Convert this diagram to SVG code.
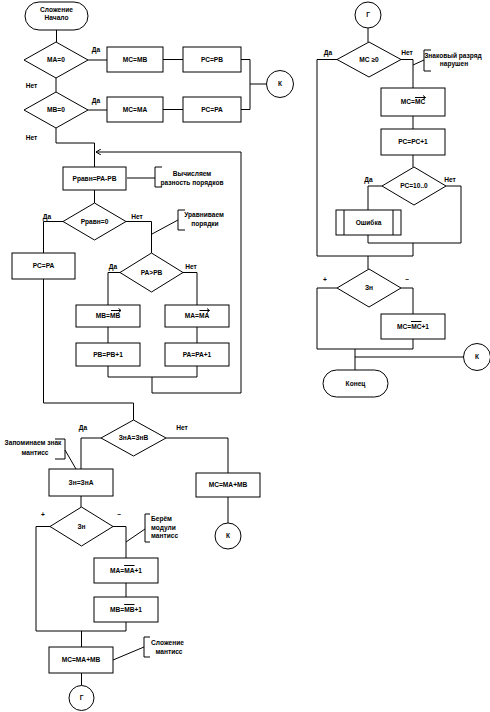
<svg xmlns="http://www.w3.org/2000/svg" width="490" height="712" viewBox="0 0 490 712">
<style>
.s{fill:#fff;stroke:#000;stroke-width:1}
.c{fill:none;stroke:#000;stroke-width:1}
text{font-family:"Liberation Sans",Arial,sans-serif;font-size:6.6px;font-weight:bold;fill:#000}
.m{text-anchor:middle}
</style>
<defs>
<marker id="ah" markerWidth="6" markerHeight="6" refX="5" refY="3" orient="auto" markerUnits="userSpaceOnUse">
<path d="M0,0 L5,3 L0,6" fill="none" stroke="#000" stroke-width="1"/>
</marker>
</defs>
<rect width="490" height="712" fill="#fff"/>
<g id="connectors">
<path class="c" d="M56.5,30 V42"/>
<path class="c" d="M88,60 H107"/>
<path class="c" d="M163,59.5 H183"/>
<path class="c" d="M241,59.5 H250 V109.5 H241"/>
<path class="c" d="M250,84 H266.5"/>
<path class="c" d="M56,78 V92"/>
<path class="c" d="M88,110 H107"/>
<path class="c" d="M163,109.5 H183"/>
<path class="c" d="M56,128 V143 H94.5 V167"/>
<path class="c" d="M152,377 V393 H241 V152 H96" marker-end="url(#ah)"/>
<path class="c" d="M127,178 H155"/>
<path class="c" d="M94.5,190 V203"/>
<path class="c" d="M63,221.5 H43.5 V253"/>
<path class="c" d="M126,221.5 H151.5 V253"/>
<path class="c" d="M152,234 L178,220"/>
<path class="c" d="M120,272.5 H108 V305"/>
<path class="c" d="M183,272.5 H197 V305"/>
<path class="c" d="M108,327 V343"/>
<path class="c" d="M197,327 V343"/>
<path class="c" d="M108,366 V377 H197 V366"/>
<path class="c" d="M43.5,279 V403 H133.5 V420"/>
<path class="c" d="M101,438 H81 V469"/>
<path class="c" d="M166,438 H228 V473"/>
<path class="c" d="M65,450 L76,469"/>
<path class="c" d="M81,496 V507"/>
<path class="c" d="M50,526.5 H36 V631 H126 V622"/>
<path class="c" d="M113,526.5 H126 V558"/>
<path class="c" d="M126,542 L145,529"/>
<path class="c" d="M228,497 V523"/>
<path class="c" d="M126,583 V597"/>
<path class="c" d="M81.5,631 V647"/>
<path class="c" d="M113,660 L144,647"/>
<path class="c" d="M81.5,673 V685.5"/>
<path class="c" d="M368,28 V42"/>
<path class="c" d="M337,59.5 H317 V256 H413 V243"/>
<path class="c" d="M401,59.5 H413 V88"/>
<path class="c" d="M413,65 L424,60"/>
<path class="c" d="M413,116 V129"/>
<path class="c" d="M413,155 V167"/>
<path class="c" d="M382,186 H368 V210"/>
<path class="c" d="M446,186 H461 V243 H368 V235"/>
<path class="c" d="M368,256 V269"/>
<path class="c" d="M337,288 H317 V349 H413 V339"/>
<path class="c" d="M401,288 H413 V314"/>
<path class="c" d="M355,349 V370"/>
<path class="c" d="M355,357 H463.5"/>
</g>
<g id="labels">
<text class="m" x="96" y="51.5">Да</text>
<text class="m" x="31.5" y="87.5">Нет</text>
<text class="m" x="96" y="102.5">Да</text>
<text class="m" x="31.5" y="139.5">Нет</text>
<text class="m" x="47" y="218.5">Да</text>
<text class="m" x="137" y="218.5">Нет</text>
<text class="m" x="113" y="268.5">Да</text>
<text class="m" x="191" y="268.5">Нет</text>
<text class="m" x="83" y="429.5">Да</text>
<text class="m" x="182" y="429.5">Нет</text>
<text class="m" x="43" y="517">+</text>
<text class="m" x="119" y="516">–</text>
<text class="m" x="328" y="54.5">Да</text>
<text class="m" x="407" y="54.5">Нет</text>
<text class="m" x="368.5" y="181.5">Да</text>
<text class="m" x="450" y="181.5">Нет</text>
<text class="m" x="325" y="282">+</text>
<text class="m" x="407" y="281">–</text>
</g>
<g id="start">
<rect class="s" x="25" y="2" width="63" height="28" rx="14"/>
<text class="m" x="56.5" y="11.5">Сложение</text>
<text class="m" x="56.5" y="19.5">Начало</text>
</g>
<g id="d1">
<polygon class="s" points="24,60 56,42 88,60 56,78"/>
<text class="m" x="56" y="62.4">МА=0</text>
</g>
<g id="b_mc_mb">
<rect class="s" x="107" y="47" width="56" height="25"/>
<text class="m" x="135" y="61.9">МС=МВ</text>
</g>
<g id="b_pc_pb">
<rect class="s" x="183" y="47" width="58" height="25"/>
<text class="m" x="212" y="61.9">РС=РВ</text>
</g>
<g id="d2">
<polygon class="s" points="24,110 56,92 88,110 56,128"/>
<text class="m" x="56" y="112.4">МВ=0</text>
</g>
<g id="b_mc_ma">
<rect class="s" x="107" y="97" width="56" height="25"/>
<text class="m" x="135" y="111.9">МС=МА</text>
</g>
<g id="b_pc_pa">
<rect class="s" x="183" y="97" width="58" height="25"/>
<text class="m" x="212" y="111.9">РС=РА</text>
</g>
<g id="k1">
<circle class="s" cx="280" cy="84" r="13.5"/>
<text class="m" x="280" y="86.4">К</text>
</g>
<g id="b_pdiff">
<rect class="s" x="63" y="167" width="63" height="23"/>
<text class="m" x="94.5" y="180.9">Рравн=РА-РВ</text>
</g>
<g id="n1">
<path class="c" d="M162,167 H155 V187 H162"/>
<text class="m" x="192" y="175.5">Вычисляем</text>
<text class="m" x="192" y="185">разность порядков</text>
</g>
<g id="d3">
<polygon class="s" points="63,221.5 94.5,203 126,221.5 94.5,240"/>
<text class="m" x="94.5" y="223.9">Рравн=0</text>
</g>
<g id="n2">
<path class="c" d="M185,210 H178 V230 H185"/>
<text class="m" x="204" y="217.4">Уравниваем</text>
<text class="m" x="205" y="226.4">порядки</text>
</g>
<g id="b_pc_pa2">
<rect class="s" x="12" y="253" width="63" height="26"/>
<text class="m" x="43.5" y="268.4">РС=РА</text>
</g>
<g id="d4">
<polygon class="s" points="120,272.5 151.5,253 183,272.5 151.5,292"/>
<text class="m" x="151.5" y="274.9">РА&gt;РВ</text>
</g>
<g id="b_mb_shift">
<rect class="s" x="76" y="305" width="64" height="22"/>
<text class="m" x="108" y="318.4">МВ=МВ</text>
<path class="c" d="M111,310.5 H121 M118.5,308.5 L121,310.5 L118.5,312.5"/>
</g>
<g id="b_ma_shift">
<rect class="s" x="165" y="305" width="64" height="22"/>
<text class="m" x="197" y="318.4">МА=МА</text>
<path class="c" d="M199.5,310.5 H209.5 M207,308.5 L209.5,310.5 L207,312.5"/>
</g>
<g id="b_pb_inc">
<rect class="s" x="76" y="343" width="64" height="23"/>
<text class="m" x="108" y="356.9">РВ=РВ+1</text>
</g>
<g id="b_pa_inc">
<rect class="s" x="165" y="343" width="64" height="23"/>
<text class="m" x="197" y="356.9">РА=РА+1</text>
</g>
<g id="d5">
<polygon class="s" points="101,438 133.5,420 166,438 133.5,456"/>
<text class="m" x="133.5" y="440.4">ЗнА=ЗнВ</text>
</g>
<g id="n3">
<path class="c" d="M55,439 H65 V459 H55"/>
<text class="m" x="33" y="445.4">Запоминаем знак</text>
<text class="m" x="35" y="454.5">мантисс</text>
</g>
<g id="b_zn">
<rect class="s" x="49" y="469" width="64" height="27"/>
<text class="m" x="81" y="484.9">Зн=ЗнА</text>
</g>
<g id="b_mc_sum1">
<rect class="s" x="196" y="473" width="64" height="24"/>
<text class="m" x="228" y="487.4">МС=МА+МВ</text>
</g>
<g id="k2">
<circle class="s" cx="228" cy="536" r="13"/>
<text class="m" x="228" y="538.4">К</text>
</g>
<g id="d6">
<polygon class="s" points="50,526.5 81.5,507 113,526.5 81.5,546"/>
<text class="m" x="81.5" y="528.9">Зн</text>
</g>
<g id="n4">
<path class="c" d="M150,514 H145 V542 H150"/>
<text x="151" y="520.7">Берём</text>
<text x="151" y="529.7">модули</text>
<text x="151" y="538.1">мантисс</text>
</g>
<g id="b_ma_inv">
<rect class="s" x="94" y="558" width="64" height="25"/>
<text class="m" x="126" y="572.9">МА=МА+1</text>
<path class="c" d="M124.2,565.5 H134.5"/>
</g>
<g id="b_mb_inv">
<rect class="s" x="94" y="597" width="64" height="25"/>
<text class="m" x="126" y="611.9">МВ=МВ+1</text>
<path class="c" d="M124.2,604.5 H134.5"/>
</g>
<g id="b_mc_sum2">
<rect class="s" x="49" y="647" width="64" height="26"/>
<text class="m" x="81" y="662.4">МС=МА+МВ</text>
</g>
<g id="n5">
<path class="c" d="M150,637 H144 V657 H150"/>
<text class="m" x="167.5" y="644.5">Сложение</text>
<text class="m" x="169" y="653.5">мантисс</text>
</g>
<g id="g1">
<circle class="s" cx="81.5" cy="698" r="12.5"/>
<text class="m" x="81.5" y="700.4">Г</text>
</g>
<g id="g2">
<circle class="s" cx="368" cy="15" r="13"/>
<text class="m" x="368" y="17.4">Г</text>
</g>
<g id="d7">
<polygon class="s" points="337,59.5 369,42 401,59.5 369,77"/>
<text class="m" x="369" y="61.9">МС ≥0</text>
</g>
<g id="n6">
<path class="c" d="M431,50 H424 V71 H431"/>
<text class="m" x="453" y="58.4">Знаковый разряд</text>
<text class="m" x="454" y="65.9">нарушен</text>
</g>
<g id="b_mc_shift">
<rect class="s" x="381" y="88" width="64" height="28"/>
<text class="m" x="413" y="104.4">МС=МС</text>
<path class="c" d="M415,97.5 H425.5 M423,95.5 L425.5,97.5 L423,99.5"/>
</g>
<g id="b_pc_inc">
<rect class="s" x="381" y="129" width="64" height="26"/>
<text class="m" x="413" y="144.4">РС=РС+1</text>
</g>
<g id="d8">
<polygon class="s" points="382,186 414,167 446,186 414,205"/>
<text class="m" x="414" y="188.4">РС=10..0</text>
</g>
<g id="err">
<rect class="s" x="336" y="210" width="65" height="25"/>
<path class="c" d="M344,210 V235 M393,210 V235"/>
<text class="m" x="368.5" y="224.9">Ошибка</text>
</g>
<g id="d9">
<polygon class="s" points="337,288 369,269 401,288 369,307"/>
<text class="m" x="369" y="290.4">Зн</text>
</g>
<g id="b_mc_inv">
<rect class="s" x="381" y="314" width="64" height="25"/>
<text class="m" x="413" y="328.9">МС=МС+1</text>
<path class="c" d="M411,321.5 H421.5"/>
</g>
<g id="k3">
<circle class="s" cx="477" cy="357" r="13.5"/>
<text class="m" x="477" y="359.4">К</text>
</g>
<g id="end">
<rect class="s" x="323" y="370" width="65" height="27" rx="13.5"/>
<text class="m" x="355.5" y="385.9">Конец</text>
</g>
</svg>
